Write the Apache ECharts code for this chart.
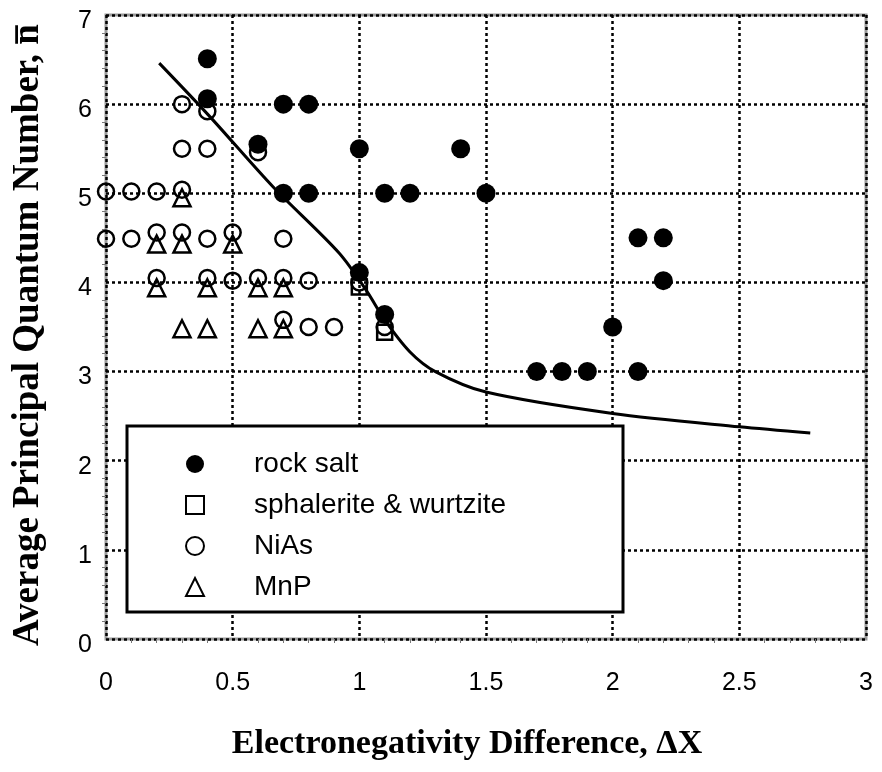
<!DOCTYPE html>
<html>
<head>
<meta charset="utf-8">
<script src="https://cdn.jsdelivr.net/npm/echarts@6/dist/echarts.min.js"></script>
<style>
  html, body { margin: 0; padding: 0; background: #fff; }
  #chart { width: 882px; height: 772px; }
</style>
</head>
<body>
<div id="chart"></div>
<script>
// data: [electronegativity difference, average principal quantum number]
const rockSalt = [
  [0.4, 6.51], [0.4, 6.06], [0.7, 6.0], [0.8, 6.0], [0.6, 5.55],
  [1.0, 5.5], [1.4, 5.5], [0.7, 5.0], [0.8, 5.0], [1.1, 5.0],
  [1.2, 5.0], [1.5, 5.0], [1.0, 4.11], [1.1, 3.64], [2.0, 3.5],
  [1.7, 3.0], [1.8, 3.0], [1.9, 3.0], [2.1, 3.0], [2.1, 4.5],
  [2.2, 4.5], [2.2, 4.02],
];
const sphalerite = [[1.0, 3.95], [1.1, 3.44]];
const niAs = [
  [0.3, 6.0], [0.4, 5.92], [0.3, 5.5], [0.4, 5.5], [0.6, 5.46],
  [0, 5.02], [0.1, 5.02], [0.2, 5.02], [0.3, 5.04],
  [0, 4.49], [0.1, 4.49], [0.2, 4.56], [0.3, 4.56], [0.4, 4.49], [0.5, 4.56], [0.7, 4.49],
  [0.2, 4.05], [0.4, 4.05], [0.5, 4.02], [0.6, 4.05], [0.7, 4.05], [0.8, 4.02], [1.0, 4.0],
  [0.7, 3.58], [0.8, 3.5], [0.9, 3.5], [1.1, 3.5],
];
const mnP = [
  [0.3, 4.95],
  [0.2, 4.43], [0.3, 4.43], [0.5, 4.43],
  [0.2, 3.94], [0.4, 3.94], [0.6, 3.94], [0.7, 3.94],
  [0.3, 3.48], [0.4, 3.48], [0.6, 3.48], [0.7, 3.48],
];
const fitCurve = [
  [0.21, 6.46], [0.41, 5.86], [0.66, 5.07], [0.92, 4.33], [1.03, 3.9],
  [1.1, 3.58], [1.2, 3.22], [1.3, 3.0], [1.5, 2.77], [2.0, 2.53],
  [2.5, 2.38], [2.78, 2.31],
];
const legendNames = ['rock salt', 'sphalerite & wurtzite', 'NiAs', 'MnP'];

const chart = echarts.init(document.getElementById('chart'));

const gridLine = { show: true, lineStyle: { color: '#000', width: 2.5, type: [3, 3] } };
const tickLabel = { color: '#000', fontSize: 25, fontFamily: 'Liberation Sans' };
const titleText = { color: '#000', fontWeight: 'bold', fontFamily: 'Liberation Serif' };
const minorTick = { show: true, splitNumber: 5, length: 4, lineStyle: { color: '#777' } };

chart.setOption({
  animation: false,
  backgroundColor: '#fff',
  grid: {
    left: 106, right: 16, top: 15, bottom: 133,
    show: true, borderColor: '#999', borderWidth: 3, backgroundColor: 'transparent',
  },
  xAxis: {
    type: 'value', min: 0, max: 3, interval: 0.5,
    name: 'Electronegativity Difference, \u0394X',
    nameLocation: 'middle', nameGap: 88,
    nameTextStyle: { ...titleText, fontSize: 34, padding: [0, 38, 0, 0] },
    axisLine: { show: false },
    axisTick: { show: false },
    minorTick: minorTick,
    axisLabel: { ...tickLabel, margin: 32 },
    splitLine: gridLine,
  },
  yAxis: {
    type: 'value', min: 0, max: 7, interval: 1,
    name: 'Average Principal Quantum Number, n\u0305',
    nameLocation: 'middle', nameGap: 59,
    nameTextStyle: { ...titleText, fontSize: 37, padding: [0, 16, 0, 0] },
    axisLine: { show: false },
    axisTick: { show: false },
    minorTick: minorTick,
    axisLabel: {
      margin: 14,
      formatter: '{v|{value}}',
      rich: { v: { ...tickLabel, padding: [12, 0, 0, 0] } },
    },
    splitLine: gridLine,
  },
  graphic: [{
    type: 'rect', z: 50,
    shape: { x: 127, y: 426, width: 496, height: 186 },
    style: { fill: '#fff', stroke: '#000', lineWidth: 3 },
  }],
  legend: {
    z: 60,
    orient: 'vertical',
    left: 180, top: 445,
    itemWidth: 18, itemHeight: 18, itemGap: 13,
    textStyle: { color: '#000', fontSize: 28, lineHeight: 28, fontFamily: 'Liberation Sans', padding: [0, 0, 0, 45] },
    data: legendNames,
  },
  series: [
    {
      name: 'curve', type: 'line', data: fitCurve, smooth: 0.3, showSymbol: false,
      lineStyle: { color: '#000', width: 3 }, z: 3,
    },
    {
      name: legendNames[0], type: 'scatter', data: rockSalt, symbol: 'circle', symbolSize: 19,
      itemStyle: { color: '#000', opacity: 1 }, z: 4,
    },
    {
      name: legendNames[1], type: 'scatter', data: sphalerite, symbol: 'rect', symbolSize: 15,
      itemStyle: { color: 'rgba(0,0,0,0)', borderColor: '#000', borderWidth: 2.5, opacity: 1 }, z: 5,
    },
    {
      name: legendNames[2], type: 'scatter', data: niAs, symbol: 'circle', symbolSize: 16,
      itemStyle: { color: 'rgba(0,0,0,0)', borderColor: '#000', borderWidth: 2.5, opacity: 1 }, z: 5,
    },
    {
      name: legendNames[3], type: 'scatter', data: mnP, symbol: 'triangle', symbolSize: 17,
      itemStyle: { color: 'rgba(0,0,0,0)', borderColor: '#000', borderWidth: 2.5, opacity: 1 }, z: 5,
    },
  ],
});
</script>
</body>
</html>
